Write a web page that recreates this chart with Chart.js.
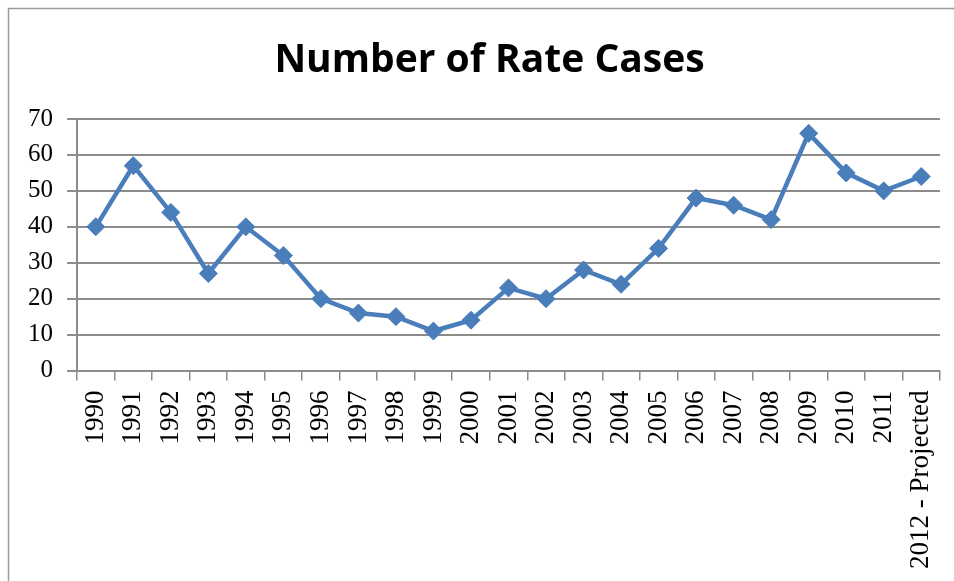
<!DOCTYPE html>
<html>
<head>
<meta charset="utf-8">
<script src="https://cdn.jsdelivr.net/npm/chart.js@4.4.0/dist/chart.umd.min.js"></script>
<style>
  html, body { margin: 0; padding: 0; background: #ffffff; }
  #wrap { width: 954px; height: 581px; position: relative; }
</style>
</head>
<body>
<div id="wrap"><canvas id="c" width="954" height="581"></canvas></div>
<script>
const chartTitle = "Number of Rate Cases";
const categories = ["1990","1991","1992","1993","1994","1995","1996","1997","1998","1999","2000","2001","2002","2003","2004","2005","2006","2007","2008","2009","2010","2011","2012 - Projected"];
const rateCases = [40, 57, 44, 27, 40, 32, 20, 16, 15, 11, 14, 23, 20, 28, 24, 34, 48, 46, 42, 66, 55, 50, 54];
const yTicks = [0, 10, 20, 30, 40, 50, 60, 70];

const frame = {
  id: 'frame',
  beforeDraw(chart) {
    const ctx = chart.ctx;
    ctx.save();
    ctx.fillStyle = '#ffffff';
    ctx.fillRect(0, 0, chart.width, chart.height);
    ctx.strokeStyle = '#9a9a9a';
    ctx.lineWidth = 1.5;
    ctx.strokeRect(8.5, 8.5, 3000, 3000);
    ctx.restore();
  },
  afterLayout(chart) {
    // the title is centred on the whole (wider) chart frame, not just the visible part
    const tb = chart.titleBlock;
    if (tb) { tb.left += 14.5; tb.right += 14.5; }
  }
};

new Chart(document.getElementById('c'), {
  type: 'line',
  data: {
    labels: categories,
    datasets: [{
      data: rateCases,
      borderColor: '#4a7ebb',
      backgroundColor: '#4a7ebb',
      borderWidth: 4.5,
      pointStyle: 'rectRot',
      pointRadius: 9,
      pointBackgroundColor: '#4a7ebb',
      pointBorderColor: '#4a7ebb',
      pointBorderWidth: 1,
      tension: 0,
      fill: false
    }]
  },
  options: {
    responsive: false,
    animation: false,
    devicePixelRatio: 1,
    layout: { padding: { left: 10, right: 14, top: 0, bottom: 2 } },
    plugins: {
      legend: { display: false },
      tooltip: { enabled: false },
      title: {
        display: true,
        text: chartTitle,
        color: '#000000',
        font: { family: 'Open Sans', size: 39, weight: 'bold', lineHeight: 1.2 },
        padding: { top: 37.5, bottom: 34.7 }
      }
    },
    scales: {
      x: {
        offset: true,
        afterFit(scale) { scale.paddingLeft = 0; scale.paddingRight = 0; },
        grid: {
          offset: true,
          drawOnChartArea: false,
          drawTicks: true,
          tickLength: 10,
          color: '#8c8c8c',
          lineWidth: 1.5
        },
        border: { display: true, color: '#8c8c8c', width: 2 },
        ticks: {
          autoSkip: false,
          minRotation: 90,
          maxRotation: 90,
          padding: 10,
          color: '#000000',
          font: { family: 'Liberation Serif', size: 27 }
        }
      },
      y: {
        min: 0,
        max: 70,
        afterFit(scale) { scale.width = 67; },
        afterBuildTicks(scale) { scale.ticks = yTicks.map(v => ({ value: v })); },
        grid: {
          color: '#8c8c8c',
          lineWidth: 2,
          tickLength: 10,
          drawTicks: true
        },
        border: { display: true, color: '#8c8c8c', width: 2 },
        ticks: {
          stepSize: 10,
          padding: 14,
          color: '#000000',
          font: { family: 'Liberation Serif', size: 25 }
        }
      }
    }
  },
  plugins: [frame]
});
</script>
</body>
</html>
